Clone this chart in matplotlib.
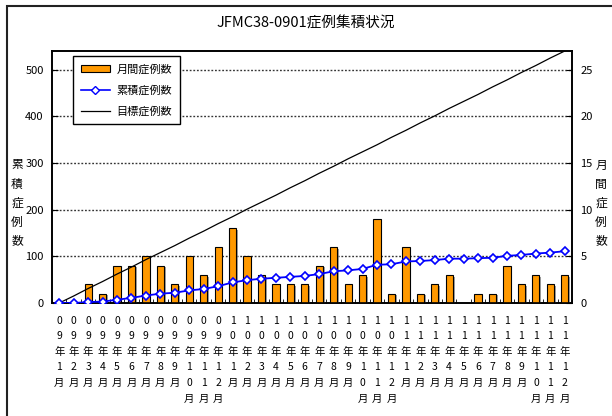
import matplotlib
matplotlib.use("Agg")
import matplotlib.pyplot as plt
from matplotlib.patches import Rectangle, Patch
from matplotlib.lines import Line2D
import matplotlib.patheffects as pe
import numpy as np

plt.rcParams['font.family'] = ['Noto Sans CJK JP', 'DejaVu Sans']

years = ['09'] * 12 + ['10'] * 12 + ['11'] * 12
months = list(range(1, 13)) * 3
monthly = [0, 0, 2, 1, 4, 4, 5, 4, 2, 5, 3, 6,
           8, 5, 3, 2, 2, 2, 4, 6, 2, 3, 9, 1,
           6, 1, 2, 3, 0, 1, 1, 4, 2, 3, 2, 3]
cumulative = [0, 0, 2, 3, 7, 11, 16, 20, 22, 27, 30, 36,
              44, 49, 52, 54, 56, 58, 62, 68, 70, 73, 82, 83,
              89, 90, 92, 95, 95, 96, 97, 101, 103, 106, 108, 111]
target = [0, 15, 31, 46, 62, 77, 93, 108, 123, 139, 154, 170,
          185, 201, 216, 231, 247, 262, 278, 293, 309, 324, 339, 355,
          370, 386, 401, 417, 432, 447, 463, 478, 494, 509, 525, 540]
left_ticks = [0, 100, 200, 300, 400, 500]
right_ticks = [0, 5, 10, 15, 20, 25]
title = "JFMC38-0901症例集積状況"
legend_labels = ["月間症例数", "累積症例数", "目標症例数"]
left_label = "累積症例数"
right_label = "月間症例数"

W, H = 612, 416
fig = plt.figure(figsize=(W / 100, H / 100), dpi=100)

# outer frame
fig.patches.append(Rectangle((7 / W, -0.2), 1.5, 1 - 6 / H + 0.2,
                             transform=fig.transFigure, fill=False,
                             edgecolor='#222222', linewidth=1.5))

x = np.arange(len(monthly))
labels = ["\n".join(list(y + "年")) + "\n" + "\n".join(list(str(m)) + ["月"])
          for y, m in zip(years, months)]

ax = fig.add_axes([52 / W, 1 - 303 / H, (572 - 52) / W, (303 - 51) / H])
ax2 = ax.twinx()

ax.set_xlim(-0.5, len(monthly) - 0.5)
ax.set_ylim(0, 27)
bars = ax.bar(x, monthly, width=0.5, color='#FF9900', edgecolor='black',
              linewidth=0.8, zorder=3)
for b in bars:
    b.set_path_effects([pe.SimplePatchShadow(offset=(1.2, -1.2),
                                             shadow_rgbFace='#888888', alpha=0.8),
                        pe.Normal()])
ax.yaxis.tick_right()
ax.yaxis.set_label_position('right')
ax.set_yticks(right_ticks)
ax.tick_params(axis='y', direction='in', length=4, labelsize=8, pad=6,
               right=True, left=False, labelright=True, labelleft=False)
for t in right_ticks[1:]:
    ax.axhline(t, color='#333333', linestyle=(0, (1.3, 1.3)), linewidth=1.0, zorder=1)
ax.set_xticks(x)
ax.set_xticklabels(labels, fontsize=7.5, linespacing=1.7, va='top')
ax.tick_params(axis='x', length=0, pad=9)
ax.set_xticks(np.arange(-0.5, len(monthly), 1), minor=True)
ax.tick_params(axis='x', which='minor', direction='in', length=3)
for s in ax.spines.values():
    s.set_linewidth(1.2)

ax2.set_ylim(0, 540)
ax2.plot(x, target, color='black', linewidth=0.9, zorder=4)
ax2.plot(x, cumulative, color='#0000FF', linewidth=1.3, marker='D',
         markersize=4.5, markerfacecolor='white', markeredgecolor='#0000FF',
         markeredgewidth=1.2, zorder=5)
ax2.yaxis.tick_left()
ax2.yaxis.set_label_position('left')
ax2.set_yticks(left_ticks)
ax2.tick_params(axis='y', direction='in', length=4, labelsize=8, pad=6,
                left=True, right=False, labelleft=True, labelright=False)
for s in ax2.spines.values():
    s.set_linewidth(1.2)

handles = [Patch(facecolor='#FF9900', edgecolor='black', linewidth=0.8),
           Line2D([], [], color='#0000FF', linewidth=1.2, marker='D', markersize=4,
                  markerfacecolor='white', markeredgecolor='#0000FF'),
           Line2D([], [], color='black', linewidth=0.9)]
leg = ax2.legend(handles, legend_labels, loc='upper left',
                 bbox_to_anchor=((73 - 52) / (572 - 52), 1 - (56 - 51) / (303 - 51)),
                 fontsize=8, frameon=True, fancybox=False, edgecolor='black',
                 framealpha=1, borderpad=0.7, labelspacing=0.95, handlelength=2.6,
                 handleheight=0.55, handletextpad=0.6, borderaxespad=0)
leg.get_frame().set_linewidth(1.0)

fig.text(0.5, 1 - 24 / H, title, ha='center', va='center', fontsize=10.5)
fig.text(17 / W, 1 - 203 / H, "\n".join(left_label), ha='center', va='center',
         fontsize=8.5, linespacing=1.6)
fig.text(601 / W, 1 - 203 / H, "\n".join(right_label), ha='center', va='center',
         fontsize=8.5, linespacing=1.6)

fig.savefig("out.png", dpi=100)
